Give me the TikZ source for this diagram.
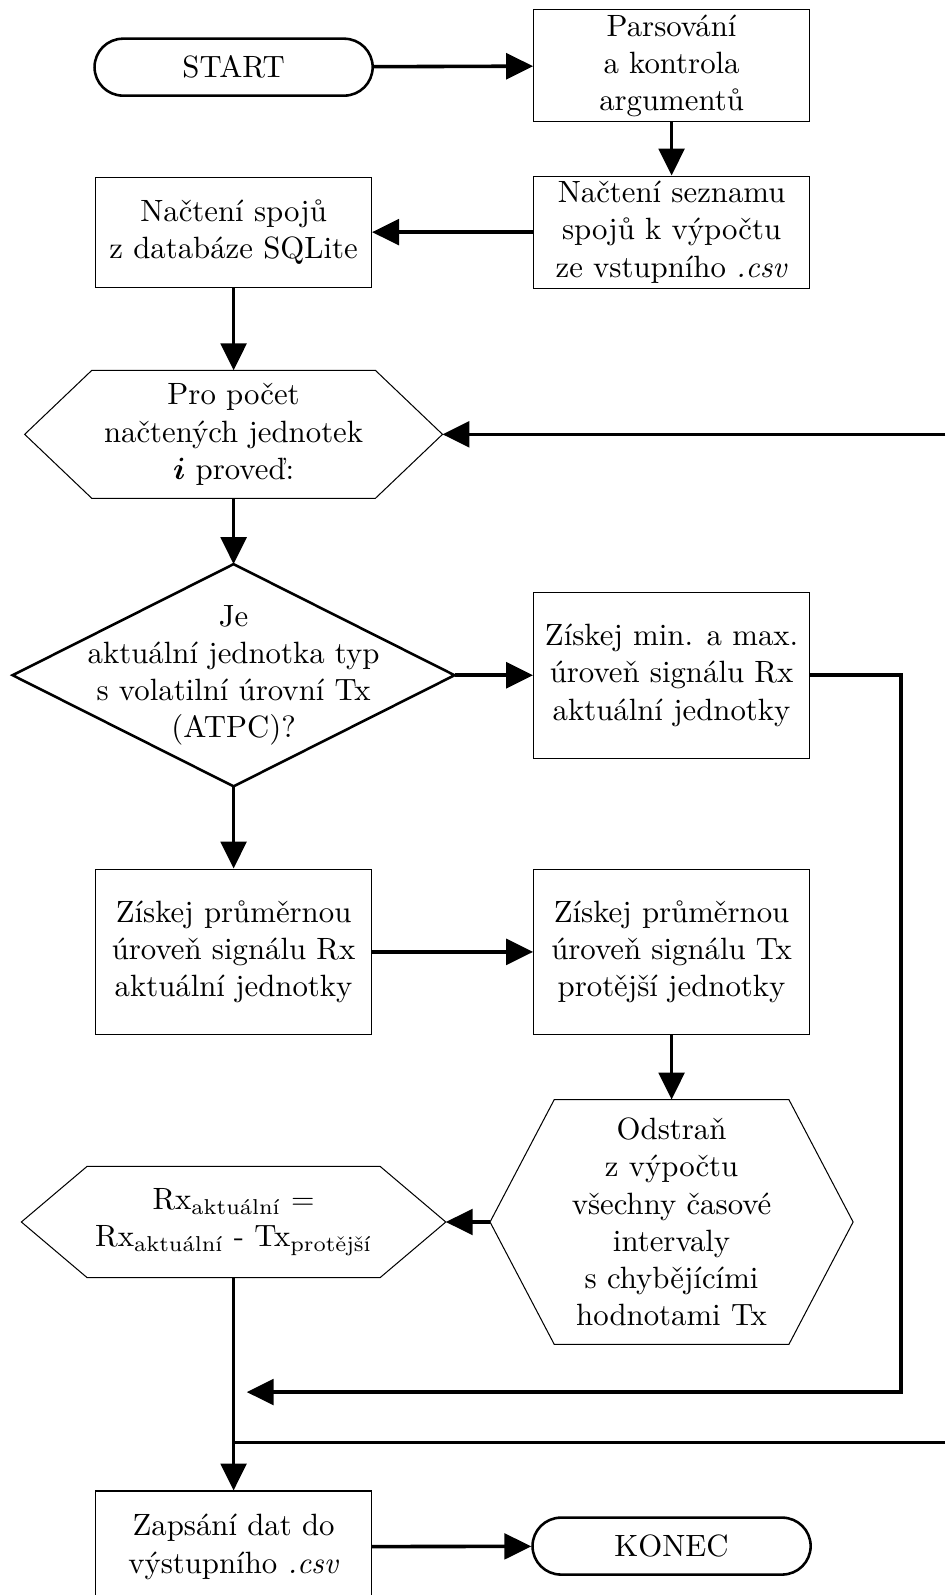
\documentclass[tikz,border=0pt,12pt]{standalone}
\usepackage{amsmath}
\usepackage{fontspec}
\setmainfont{lmroman10-regular.otf}[ItalicFont=lmroman10-italic.otf, BoldFont=lmroman10-bold.otf, BoldItalicFont=lmroman10-bolditalic.otf]
\newfontfamily\subfont{lmroman7-regular.otf}[Scale=1.05]
\usepackage{tikz}
\usepackage{bm}
\usetikzlibrary{arrows.meta}

\tikzset{
  box/.style={draw, thin, align=center, inner sep=2pt, minimum width=3.78cm, minimum height=1.51cm},
  tallbox/.style={box, minimum height=2.27cm},
  term/.style={draw, line width=1pt, rounded corners=0.39cm, align=center, minimum width=3.81cm, minimum height=0.78cm},
  hexa/.style={align=center, inner sep=0pt},
  arr/.style={line width=1.4pt, -{Triangle[length=10.5pt,width=10pt]}},
  ln/.style={line width=1.4pt}
}
% hexagon outline round a named node: #1 node, #2 inset of the points
\newcommand{\hexframe}[2]{\draw[thin] (#1.west) -- ([xshift=#2]#1.north west) -- ([xshift=-#2]#1.north east) -- (#1.east) -- ([xshift=-#2]#1.south east) -- ([xshift=#2]#1.south west) -- cycle;}
\newcommand{\sub}[1]{$_\text{\subfont #1}$}

\begin{document}
\begin{tikzpicture}
\useasboundingbox (0,0) rectangle (12.95,-21.85);

% Top
\node[term] (start) at (3.2,-0.92) {START};
\node[box] (pars) at (9.2,-0.90) {Parsování\\a kontrola\\argumentů};
\node[box] (seznam) at (9.2,-3.18) {Načtení seznamu\\spojů k výpočtu\\ze vstupního \textit{.csv}};
\node[box] (spoje) at (3.2,-3.18) {Načtení spojů\\z databáze SQLite};

% Loop head
\node[hexa, minimum width=5.71cm, minimum height=1.74cm] (pro) at (3.2,-5.95) {Pro počet\\načtených jednotek\\$\bm{i}$ proveď:};
\hexframe{pro}{0.92cm}

% Decision
\node[hexa, minimum width=6.04cm, minimum height=3.03cm] (dec) at (3.2,-9.25) {Je\\aktuální jednotka typ\\s volatilní úrovní Tx\\(ATPC)?};
\draw[line width=1pt] (dec.north) -- (dec.east) -- (dec.south) -- (dec.west) -- cycle;
\node[tallbox] (minmax) at (9.2,-9.25) {Získej min. a max.\\úroveň signálu Rx\\aktuální jednotky};

\node[tallbox] (rxavg) at (3.2,-13.04) {Získej průměrnou\\úroveň signálu Rx\\aktuální jednotky};
\node[tallbox] (txavg) at (9.2,-13.04) {Získej průměrnou\\úroveň signálu Tx\\protější jednotky};

\node[hexa, minimum width=4.96cm, minimum height=3.34cm] (odstran) at (9.2,-16.74) {Odstraň\\z výpočtu\\všechny časové\\intervaly\\s chybějícími\\hodnotami Tx};
\hexframe{odstran}{0.88cm}
\node[hexa, minimum width=5.80cm, minimum height=1.51cm] (rxhex) at (3.2,-16.74) {Rx\sub{aktuální} $=$\\Rx\sub{aktuální} - Tx\sub{protější}};
\hexframe{rxhex}{0.90cm}

% End
\node[box, minimum height=1.53cm] (zapis) at (3.2,-21.19) {Zapsání dat do\\výstupního \textit{.csv}};
\node[term] (konec) at (9.2,-21.18) {KONEC};

% Free ends of the loop lines
\coordinate (loopin) at (12.95,-5.95);
\coordinate (corner) at (12.34,-19.07);
\coordinate (merge) at (3.38,-19.07);
\coordinate (loopout) at (3.2,-19.76);
\coordinate (loopend) at (12.95,-19.76);

% Connectors
\draw[arr] (start) -- (pars);
\draw[arr] (pars) -- (seznam);
\draw[arr] (seznam) -- (spoje);
\draw[arr] (spoje) -- (pro);
\draw[arr] (loopin) -- (pro.east);
\draw[arr] (pro) -- (dec.north);
\draw[arr] (dec.east) -- (minmax);
\draw[arr] (dec.south) -- (rxavg);
\draw[arr] (rxavg) -- (txavg);
\draw[arr] (txavg) -- (odstran.north);
\draw[arr] (odstran.west) -- (rxhex.east);
\draw[arr] (minmax.east) -| (corner) -- (merge);
\draw[arr] (rxhex.south) -- (zapis.north);
\draw[ln] (loopout) -- (loopend);
\draw[arr] (zapis) -- (konec);
\end{tikzpicture}
\end{document}
